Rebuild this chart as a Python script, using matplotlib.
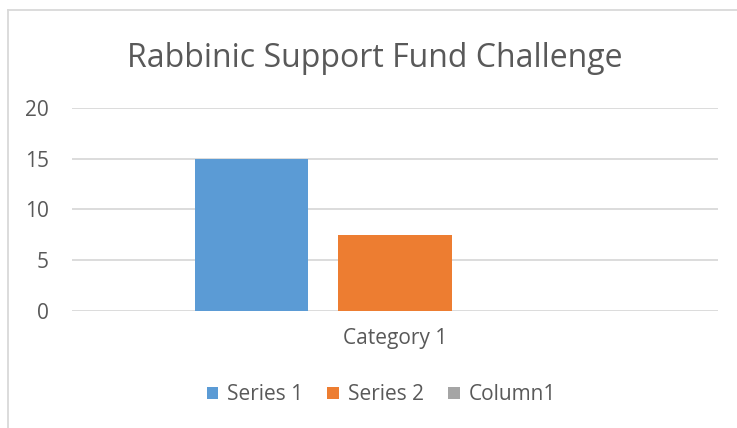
import matplotlib.pyplot as plt
from matplotlib.lines import Line2D
from matplotlib.patches import Patch

# chart data
categories = ["Category 1"]
series_names = ["Series 1", "Series 2", "Column1"]
series_values = [[15], [7.5], [0]]
series_colors = ["#5B9BD5", "#ED7D31", "#A5A5A5"]
y_ticks = [0, 5, 10, 15, 20]

text_color = "#595959"
grid_color = "#D9D9D9"

plt.rcParams['font.family'] = ['Open Sans', 'DejaVu Sans']

fig = plt.figure(figsize=(7.37, 4.28), dpi=100)
ax = fig.add_axes([0.0977, 0.2734, 0.8765, 0.4743])

offsets = [-0.222, 0.0, 0.222]
width = 0.175
for name, vals, col, off in zip(series_names, series_values, series_colors, offsets):
    xs = [i + off for i in range(len(categories))]
    ax.bar(xs, vals, width=width, color=col, label=name, zorder=3)

ax.set_xlim(-0.5, len(categories) - 0.5)
ax.set_ylim(0, 20)
ax.set_yticks(y_ticks)
ax.set_yticklabels([str(t) for t in y_ticks], fontsize=15, color=text_color)
ax.set_xticks(range(len(categories)))
ax.set_xticklabels(categories, fontsize=15, color=text_color)
ax.tick_params(axis='both', length=0)
ax.tick_params(axis='y', pad=16.5)
ax.tick_params(axis='x', pad=12)

for t in y_ticks:
    ax.axhline(t, color=grid_color, linewidth=1.3, zorder=1)
for s in ax.spines.values():
    s.set_visible(False)

fig.text(375 / 737, 1 - 67 / 428, "Rabbinic Support Fund Challenge", ha='center',
         va='baseline', fontsize=23, color=text_color)

handles = [Patch(facecolor=c, edgecolor='none') for c in series_colors]
fig.legend(handles, series_names, loc='center', bbox_to_anchor=(381.5 / 737, 1 - 395 / 428),
           ncol=3, frameon=False, fontsize=15, labelcolor=text_color,
           handlelength=0.55, handleheight=0.55, handletextpad=0.45, columnspacing=1.15)

# outer chart frame (cropped: only left and top edges visible)
fig.add_artist(Line2D([8 / 737, 8 / 737], [0, 1 - 10 / 428], color=grid_color, linewidth=1.3))
fig.add_artist(Line2D([8 / 737, 1], [1 - 10 / 428, 1 - 10 / 428], color=grid_color, linewidth=1.3))

fig.savefig("out.png", dpi=100)
